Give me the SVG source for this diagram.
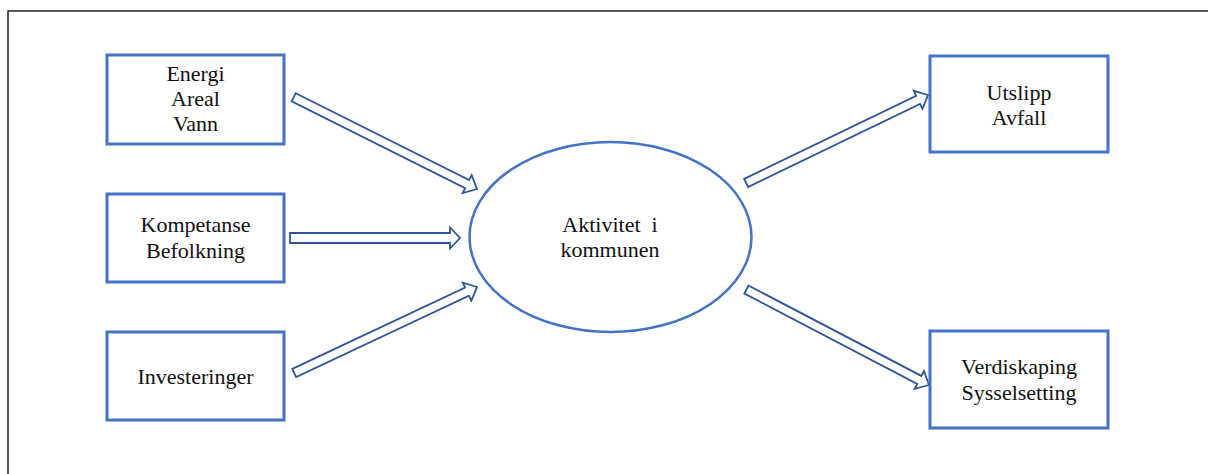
<svg xmlns="http://www.w3.org/2000/svg" width="1208" height="474" viewBox="0 0 1208 474">
<style>
.box{fill:#fff;stroke:#4472C4;stroke-width:3}
.ell{fill:#fff;stroke:#4472C4;stroke-width:2.5}
.arr{fill:#fff;stroke:#2F5597;stroke-width:1.8;stroke-linejoin:miter}
.t{font-family:"Liberation Serif","Times New Roman",serif;font-size:22px;fill:#111;text-anchor:middle}
.frame{fill:none;stroke:#222;stroke-width:1.5}
</style>
<rect width="1208" height="474" fill="#fff"/>
<path class="frame" d="M8,480 L8,11 L1210,11"/>
<g id="connectors">
<path class="arr" transform="translate(477,189) rotate(26.6)" d="M-205,-4.5 L-11,-4.5 L-11,-10 L0,0 L-11,10 L-11,4.5 L-205,4.5 Z"/>
<path class="arr" transform="translate(460,238)" d="M-170,-5 L-10,-5 L-10,-10.5 L0,0 L-10,10.5 L-10,5 L-170,5 Z"/>
<path class="arr" transform="translate(477,287) rotate(-25.2)" d="M-202,-4.5 L-11,-4.5 L-11,-10 L0,0 L-11,10 L-11,4.5 L-202,4.5 Z"/>
<path class="arr" transform="translate(928,95) rotate(-25.8)" d="M-202,-4.5 L-11,-4.5 L-11,-10 L0,0 L-11,10 L-11,4.5 L-202,4.5 Z"/>
<path class="arr" transform="translate(929,385) rotate(27.6)" d="M-206,-4.5 L-11,-4.5 L-11,-10 L0,0 L-11,10 L-11,4.5 L-206,4.5 Z"/>
</g>
<g id="n-energi">
<rect class="box" x="107" y="55" width="177" height="89"/>
<text class="t" x="195.5" y="81">Energi</text>
<text class="t" x="195.5" y="106">Areal</text>
<text class="t" x="195.5" y="131">Vann</text>
</g>
<g id="n-kompetanse">
<rect class="box" x="107" y="194" width="177" height="88"/>
<text class="t" x="195.5" y="232">Kompetanse</text>
<text class="t" x="195.5" y="258">Befolkning</text>
</g>
<g id="n-investeringer">
<rect class="box" x="107" y="332" width="177" height="88"/>
<text class="t" x="195.5" y="384">Investeringer</text>
</g>
<g id="n-aktivitet">
<ellipse class="ell" cx="610.5" cy="237" rx="141" ry="95"/>
<text class="t" x="610" y="232" xml:space="preserve">Aktivitet  i</text>
<text class="t" x="610" y="257">kommunen</text>
</g>
<g id="n-utslipp">
<rect class="box" x="930" y="56" width="178" height="96"/>
<text class="t" x="1019" y="100">Utslipp</text>
<text class="t" x="1019" y="125">Avfall</text>
</g>
<g id="n-verdiskaping">
<rect class="box" x="930" y="331" width="178" height="97"/>
<text class="t" x="1019" y="374">Verdiskaping</text>
<text class="t" x="1019" y="400">Sysselsetting</text>
</g>
</svg>
